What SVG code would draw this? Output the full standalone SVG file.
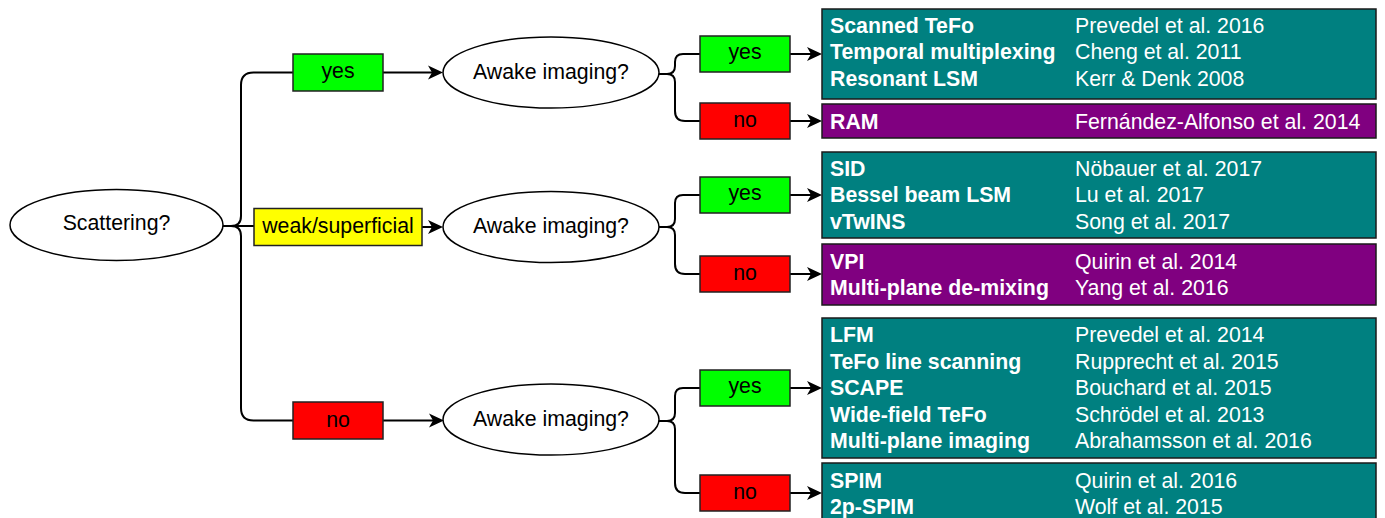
<svg xmlns="http://www.w3.org/2000/svg" width="1385" height="518" viewBox="0 0 1385 518">
<style>
.t{font-family:"Liberation Sans",Arial,sans-serif;font-size:21.3px;fill:#000}
.c{text-anchor:middle}
.ell{fill:#fff;stroke:#000;stroke-width:1.5}
.lbl{stroke:#222;stroke-width:1.5}
.yes{fill:#00ff00}.no{fill:#ff0000}.weak{fill:#ffff00}
.res{stroke:#1a1a1a;stroke-width:1.5}
.teal{fill:#008080}.purp{fill:#800080}
.m{font-family:"Liberation Sans",Arial,sans-serif;font-size:21.3px;fill:#fff;font-weight:bold}
.r{font-family:"Liberation Sans",Arial,sans-serif;font-size:21.3px;fill:#fff}
.e{fill:none;stroke:#000;stroke-width:2}
.a{marker-end:url(#arr)}
</style>
<defs>
<marker id="arr" viewBox="-16 -8 17 16" refX="-11" refY="0" markerWidth="17" markerHeight="16" markerUnits="userSpaceOnUse" orient="auto">
<path d="M0,0 L-15,-7 L-11,0 L-15,7 Z" fill="#000"/>
</marker>
</defs>
<rect width="1385" height="518" fill="#fff"/>
<g id="connectors">
<path class="e" d="M223,226 H231 Q241,226 241,216 V85 Q241,72.5 253.5,72.5 H293"/>
<path class="e" d="M223,226 H254"/>
<path class="e" d="M223,226 H231 Q241,226 241,236 V408 Q241,420.5 253.5,420.5 H293"/>
<path class="e a" d="M383,72.5 H432"/>
<path class="e a" d="M422,227 H432"/>
<path class="e a" d="M383,420.5 H433"/>
<path class="e" d="M659,74 H667 Q675,74 675,66 V62 Q675,54 683,54 H700"/>
<path class="e" d="M659,74 H667 Q675,74 675,82 V111 Q675,121 685,121 H700"/>
<path class="e" d="M659,227 H667 Q675,227 675,219 V203 Q675,195 683,195 H700"/>
<path class="e" d="M659,227 H667 Q675,227 675,235 V264 Q675,274 685,274 H700"/>
<path class="e" d="M659,421 H667 Q675,421 675,413 V396 Q675,388 683,388 H700"/>
<path class="e" d="M659,421 H667 Q675,421 675,429 V483 Q675,493 685,493 H700"/>
<path class="e a" d="M790,54 H811"/>
<path class="e a" d="M790,121 H811"/>
<path class="e a" d="M790,195 H811"/>
<path class="e a" d="M790,274 H811"/>
<path class="e a" d="M790,388 H811"/>
<path class="e a" d="M790,493 H811"/>
</g>
<g id="scattering">
<ellipse class="ell" cx="116.5" cy="225" rx="106.5" ry="35.5"/>
<text class="t c" x="116.5" y="230">Scattering?</text>
</g>
<g id="lbl-yes"><rect class="lbl yes" x="293" y="54" width="90" height="37"/><text class="t c" x="338" y="77.5">yes</text></g>
<g id="lbl-weak"><rect class="lbl weak" x="254" y="208.5" width="168" height="37"/><text class="t c" x="338" y="233">weak/superficial</text></g>
<g id="lbl-no"><rect class="lbl no" x="293" y="402" width="90" height="37"/><text class="t c" x="338" y="426.5">no</text></g>
<g id="awake1"><ellipse class="ell" cx="551" cy="72.5" rx="108" ry="35.5"/><text class="t c" x="551" y="78.5">Awake imaging?</text></g>
<g id="awake2"><ellipse class="ell" cx="551" cy="227" rx="108" ry="35.5"/><text class="t c" x="551" y="233">Awake imaging?</text></g>
<g id="awake3"><ellipse class="ell" cx="551" cy="419.5" rx="108" ry="35.5"/><text class="t c" x="551" y="425.5">Awake imaging?</text></g>
<g id="yes1"><rect class="lbl yes" x="700" y="36" width="90" height="36"/><text class="t c" x="745" y="58.5">yes</text></g>
<g id="no1"><rect class="lbl no" x="700" y="103" width="90" height="36"/><text class="t c" x="745" y="126.5">no</text></g>
<g id="yes2"><rect class="lbl yes" x="700" y="177" width="90" height="36"/><text class="t c" x="745" y="199.5">yes</text></g>
<g id="no2"><rect class="lbl no" x="700" y="256" width="90" height="36"/><text class="t c" x="745" y="279.5">no</text></g>
<g id="yes3"><rect class="lbl yes" x="700" y="370" width="90" height="36"/><text class="t c" x="745" y="392.5">yes</text></g>
<g id="no3"><rect class="lbl no" x="700" y="475" width="90" height="36"/><text class="t c" x="745" y="498.5">no</text></g>
<g id="res1">
<rect class="res teal" x="822" y="9" width="554" height="90"/>
<text class="m" x="830" y="32.5">Scanned TeFo</text><text class="r" x="1075" y="32.5">Prevedel et al. 2016</text>
<text class="m" x="830" y="59">Temporal multiplexing</text><text class="r" x="1075" y="59">Cheng et al. 2011</text>
<text class="m" x="830" y="85.5">Resonant LSM</text><text class="r" x="1075" y="85.5">Kerr &amp; Denk 2008</text>
</g>
<g id="res2">
<rect class="res purp" x="822" y="104" width="554" height="34"/>
<text class="m" x="830" y="128.5">RAM</text><text class="r" x="1075" y="128.5">Fernández-Alfonso et al. 2014</text>
</g>
<g id="res3">
<rect class="res teal" x="822" y="152" width="554" height="86"/>
<text class="m" x="830" y="175.8">SID</text><text class="r" x="1075" y="175.8">Nöbauer et al. 2017</text>
<text class="m" x="830" y="202.3">Bessel beam LSM</text><text class="r" x="1075" y="202.3">Lu et al. 2017</text>
<text class="m" x="830" y="228.8">vTwINS</text><text class="r" x="1075" y="228.8">Song et al. 2017</text>
</g>
<g id="res4">
<rect class="res purp" x="822" y="244" width="554" height="61"/>
<text class="m" x="830" y="268.6">VPI</text><text class="r" x="1075" y="268.6">Quirin et al. 2014</text>
<text class="m" x="830" y="295.1">Multi-plane de-mixing</text><text class="r" x="1075" y="295.1">Yang et al. 2016</text>
</g>
<g id="res5">
<rect class="res teal" x="822" y="318" width="554" height="140"/>
<text class="m" x="830" y="342.3">LFM</text><text class="r" x="1075" y="342.3">Prevedel et al. 2014</text>
<text class="m" x="830" y="368.8">TeFo line scanning</text><text class="r" x="1075" y="368.8">Rupprecht et al. 2015</text>
<text class="m" x="830" y="395.3">SCAPE</text><text class="r" x="1075" y="395.3">Bouchard et al. 2015</text>
<text class="m" x="830" y="421.8">Wide-field TeFo</text><text class="r" x="1075" y="421.8">Schrödel et al. 2013</text>
<text class="m" x="830" y="448.3">Multi-plane imaging</text><text class="r" x="1075" y="448.3">Abrahamsson et al. 2016</text>
</g>
<g id="res6">
<rect class="res teal" x="822" y="463" width="554" height="61"/>
<text class="m" x="830" y="487.5">SPIM</text><text class="r" x="1075" y="487.5">Quirin et al. 2016</text>
<text class="m" x="830" y="514">2p-SPIM</text><text class="r" x="1075" y="514">Wolf et al. 2015</text>
</g>
</svg>
